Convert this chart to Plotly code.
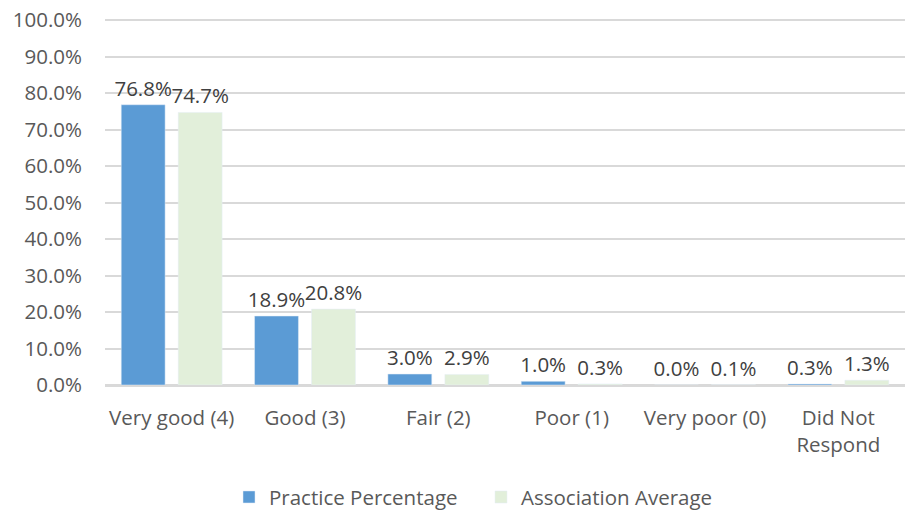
import plotly.graph_objects as go

categories = ["Very good (4)", "Good (3)", "Fair (2)", "Poor (1)", "Very poor (0)", "Did Not<br>Respond"]
practice = [76.8, 18.9, 3.0, 1.0, 0.0, 0.3]
association = [74.7, 20.8, 2.9, 0.3, 0.1, 1.3]
tick_vals = [0, 10, 20, 30, 40, 50, 60, 70, 80, 90, 100]
tick_text = [f"{v:.1f}%" for v in tick_vals]

font_family = "Open Sans, Noto Sans, sans-serif"
grey = "#595959"
fs = 20.5

fig = go.Figure()
fig.add_trace(go.Bar(
    x=categories, y=practice, name="Practice Percentage",
    marker=dict(color="#5B9BD5"),
    text=[f"{v:.1f}%" for v in practice], textposition="outside",
    textfont=dict(size=fs, color="#404040", family=font_family),
    constraintext="none", cliponaxis=False,
))
fig.add_trace(go.Bar(
    x=categories, y=association, name="Association Average",
    marker=dict(color="#E2EFDA"),
    text=[f"{v:.1f}%" for v in association], textposition="outside",
    textfont=dict(size=fs, color="#404040", family=font_family),
    constraintext="none", cliponaxis=False,
))

fig.update_layout(
    width=911, height=512,
    margin=dict(l=105, r=6, t=19, b=127),
    paper_bgcolor="white", plot_bgcolor="white",
    barmode="group", bargap=0.145, bargroupgap=0.23,
    font=dict(family=font_family, size=fs, color=grey),
    showlegend=True,
    legend=dict(orientation="h", xref="container", yref="container",
                x=0.528, xanchor="center", y=0.029, yanchor="middle",
                entrywidth=207, entrywidthmode="pixels",
                font=dict(size=fs, color=grey)),
)
fig.update_yaxes(range=[0, 100.3], tickvals=tick_vals, ticktext=tick_text,
                 showgrid=True, gridcolor="#D9D9D9", gridwidth=1.5,
                 zeroline=True, zerolinecolor="#D9D9D9", zerolinewidth=1.5,
                 ticks="", ticklabelstandoff=22, ticklabeloverflow="allow",
                 automargin=False)
fig.update_xaxes(showline=True, linecolor="#D9D9D9", linewidth=1.5, ticks="",
                 ticklabelstandoff=14, automargin=False)

fig.write_html("out.html", config={"displayModeBar": False},
               post_script="document.body.style.margin='0px';")
